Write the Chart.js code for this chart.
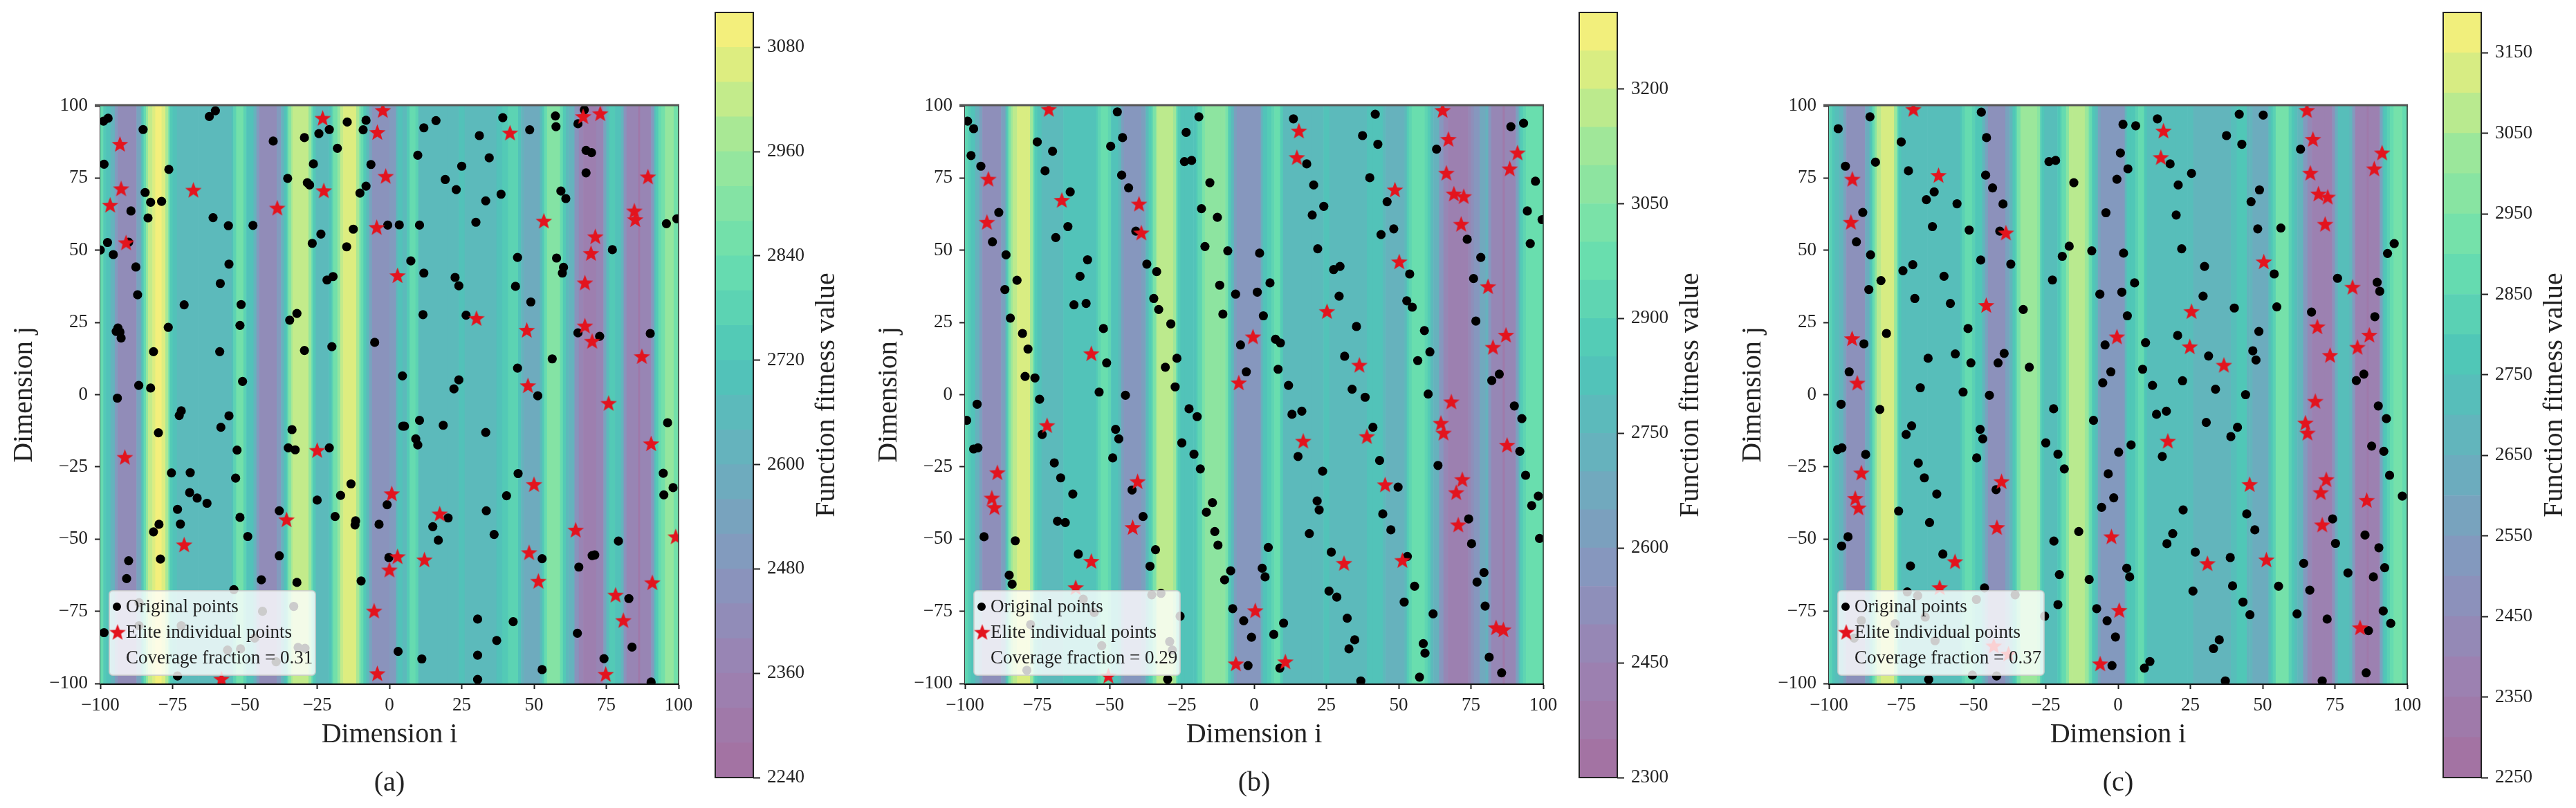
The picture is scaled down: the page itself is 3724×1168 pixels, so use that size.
<!DOCTYPE html>
<html><head><meta charset="utf-8">
<style>
html,body{margin:0;padding:0;background:#fff;width:3724px;height:1168px;overflow:hidden}
canvas{position:absolute;top:0;filter:blur(0.7px)}
</style>
<script src="https://cdn.jsdelivr.net/npm/chart.js@4"></script>
</head><body>
<script>
const axisTicks=[-100,-75,-50,-25,0,25,50,75,100];
const legendLabels=['Original points','Elite individual points'];
const xTitle='Dimension i', yTitle='Dimension j', barTitle='Function fitness value';
const captions=['(a)','(b)','(c)'];
const coverage=['Coverage fraction = 0.31','Coverage fraction = 0.29','Coverage fraction = 0.37'];

const barLevelsA=[2240,3120,40], barTicksA=[2240,2360,2480,2600,2720,2840,2960,3080];
const barLevelsB=[2300,3300,50], barTicksB=[2300,2450,2600,2750,2900,3050,3200];
const barLevelsC=[2250,3200,50], barTicksC=[2250,2350,2450,2550,2650,2750,2850,2950,3050,3150];

const stripeEnds=[-99,-98,-96.5,-95,-94,-87.5,-86,-85.5,-85,-84.2,-83.5,-82,-81,-78.8,-77.5,-76.5,-76,-75,-73.5,-66,-54.6,-54,-53,-50.5,-49.5,-47,-46,-45,-39,-37.5,-36.5,-35.5,-35,-34,-33.5,-28,-27,-26.5,-25.5,-24,-21,-20,-19.5,-18,-17,-16,-11.5,-10.5,-10,-9,-8,-7,-6,0,2.3,3,4.5,6,7,9,10,20,24,26,37,39,41,44.5,45.5,46.5,52,52.8,53.5,54.5,59,60,61,62,64,65.5,67,71.5,74,75,76,78,80,81,82,86,86.7,90.5,91.5,92,93,94,95.3,98.3,100];
const stripeBandsA=[14,12,11,9,6,4,7,10,12,14,17,19,20,21,20,18,15,12,11,10,10,11,13,15,13,11,9,6,4,6,9,11,13,16,18,19,17,14,12,10,10,11,13,15,17,19,20,18,16,14,12,10,7,5,6,10,11,10,12,14,13,10,10,11,10,11,12,13,11,9,8,10,12,14,16,14,12,10,9,5,3,2,3,7,10,12,11,9,5,3,1,3,6,10,12,14,15,17,15];
const stripeBandsB=[12,11,10,8,6,4,6,9,11,14,16,17,18,18,18,16,13,11,10,9,10,11,12,13,12,10,9,6,5,6,9,11,12,14,16,17,16,13,11,10,10,10,11,12,14,15,15,15,15,14,11,9,6,5,5,8,10,11,12,13,11,9,9,10,9,9,10,10,9,8,8,9,11,12,13,12,11,9,8,5,3,2,2,3,4,5,7,8,5,3,1,3,6,9,11,12,13,13,13];
const stripeBandsC=[11,10,9,8,6,4,7,9,10,12,14,16,17,17,17,15,12,10,9,9,9,10,11,12,11,10,8,6,4,6,8,10,11,13,14,15,14,11,10,9,9,10,11,12,14,16,16,15,14,12,10,9,6,5,5,8,10,10,11,12,10,9,9,9,8,8,9,10,8,8,7,9,10,11,13,11,10,9,8,5,3,2,2,4,7,9,9,8,5,2,1,2,6,9,10,11,12,13,12];

const originalPointsA=[[-98.9,94.7],[-97.3,95.7],[-85.2,91.8],[-98.7,79.8],[-76.3,78],[-62.3,96.3],[-60.2,98.3],[-40.2,87.8],[-29.4,89],[-24.4,90.4],[-20.8,91.8],[-14.6,94.4],[-8.1,95],[-9.1,91.7],[-18,85.3],[-26.3,79.9],[-6.4,79.7],[-35.2,74.9],[-28.4,73.4],[-27.6,72.6],[-8.1,72.2],[-10.2,69.8],[-84.5,70],[-82.6,66.6],[-78.8,66.9],[-89.4,63.6],[-83.5,61.2],[-61,61.3],[-55.7,58.5],[-47.2,58.6],[-0.6,58.7],[3.4,58.8],[10.4,58.7],[-12.5,57.3],[-23.7,55.6],[-97.5,52.7],[-90.2,52.8],[-100,50.1],[-95.5,48.5],[-26.7,52.4],[-14.8,51.2],[-87.7,44.2],[-55.5,45.2],[7.4,46.3],[-87.1,34.6],[-58.5,38.5],[-21.6,39.7],[-19.5,40.9],[11.9,42.1],[22.7,40.6],[24,37.7],[43.6,37.5],[44.3,47.5],[57.8,47.3],[60.2,44.1],[59.8,42.1],[48.9,32.1],[-71,31.1],[-51.3,31.2],[-32,28.1],[-34.5,25.8],[11.6,27.7],[26.5,27.5],[-76.5,23.3],[-51.7,24],[-93.9,23.1],[-94.5,21.9],[-93.2,21.7],[-92.8,19.6],[-5.1,18.1],[-19.9,16.6],[-29.4,15.3],[-81.6,14.9],[-58.7,14.9],[65.2,21.4],[72.7,20.2],[90.2,21.2],[56.3,12.4],[44.3,9.2],[4.5,6.5],[24,5.1],[22.3,2],[-50.8,4.6],[-86.7,3.2],[-82.6,2.3],[-94.1,-1.2],[51.3,-0.4],[39.2,95.9],[57.4,96.5],[57.6,92.8],[65.2,93.8],[67.4,98.6],[48.5,91.7],[31.1,89.7],[11.9,92.4],[16.1,94.9],[9.8,82.9],[34.5,82],[25,79.1],[68,84.6],[69.9,83.8],[68,76.8],[19.3,74.5],[23.1,71],[33.3,67.1],[38.6,69.4],[59.3,70.5],[61,67.9],[29.9,59.7],[95.8,59.2],[99.4,60.9],[77.1,50.2],[-72,-5.6],[-72.7,-7.2],[-55.5,-7.3],[-58.3,-11.3],[-79.9,-13.2],[-33.7,-12.1],[-35,-18.4],[-32.6,-19.1],[-52.7,-19.2],[-20.8,-18.4],[4.6,-10.9],[5.2,-10.9],[10.4,-8.9],[18.6,-10.6],[9.1,-15.3],[9.8,-17.4],[33.3,-13.1],[96.2,-9.7],[-75.4,-27.1],[-68.9,-27],[-53.2,-28.9],[44.5,-27.3],[94.7,-27.2],[98.1,-32.2],[94.9,-34.7],[-13.3,-30.9],[-16.9,-34.9],[-25,-36.5],[-69.1,-33.9],[-66.5,-35.8],[-63.1,-37.6],[-73.3,-39.7],[40.5,-35],[-0.8,-38.1],[33.5,-40.2],[-38.1,-40.2],[-18.8,-42.2],[-51.7,-42.5],[-11.7,-43.7],[-11.9,-45.1],[20.3,-42.7],[-79.7,-44.9],[-72.3,-44.8],[-3.6,-44.9],[15,-45.7],[-81.6,-47.5],[-49,-49.1],[36.2,-48.4],[16.9,-50.4],[79.2,-50.7],[-38.1,-55.8],[-0.2,-56.4],[-90.2,-57.5],[-79.2,-56.9],[52.8,-56.8],[70.1,-55.7],[71,-55.5],[65.5,-59.7],[-90.9,-63.7],[-44.3,-64.1],[-32,-65],[-9.8,-64.5],[-53.8,-67.5],[82.8,-70.6],[30.5,-77.7],[42.8,-78.6],[65,-82.6],[-98.7,-82.4],[37.1,-85.1],[83.9,-87.4],[3,-88.9],[11.2,-91.5],[30.5,-90.2],[74.2,-91.4],[52.8,-95.2],[-73.3,-97.4],[30.5,-98.6],[90.5,-99.5],[-86.6,-72],[-33.1,-73.3],[-43.9,-75],[-72,-80],[-86.6,-80],[-46.6,-84.3],[-56,-88.4],[-51.5,-88],[-31.6,-87.5],[-29.2,-87.8],[-39.2,-92.5]];
const elitePointsA=[[-93.2,86.7],[-23.1,95.7],[-2.3,98.4],[-4.2,90.8],[41.7,90.6],[67,96.3],[72.9,97.3],[-92.8,71.3],[-96.6,65.6],[-67.8,70.8],[-38.8,64.6],[-22.7,70.6],[-1.3,75.6],[89.4,75.4],[-4.4,57.9],[53.4,60.1],[84.7,63.6],[85,60.6],[-91.1,52.6],[71.2,54.7],[69.7,48.9],[2.8,41.2],[67.6,38.7],[30.1,26.4],[47.5,22.3],[67.6,23.8],[70.1,18.5],[87.3,13.2],[47.9,3.1],[75.8,-3],[-91.5,-21.7],[-25,-19.3],[90.5,-17],[50,-31.1],[0.8,-34.3],[17.4,-41.3],[-35.6,-43.3],[64.4,-46.9],[99,-49.2],[-71,-52],[2.8,-56.1],[12.1,-57.2],[48.3,-54.7],[0,-60.7],[51.5,-64.6],[90.9,-65.1],[78.2,-69.4],[-5.3,-74.9],[80.9,-78.2],[-4.2,-96.6],[-58.1,-98.5],[74.8,-96.8]];

const originalPointsB=[[-99.1,94.7],[-97,92.1],[-97.9,82.8],[-94.5,79.1],[-88.3,63.1],[-90.5,52.9],[-85.8,48.4],[-82,39.6],[-86.2,36.4],[-84.3,26.5],[-80.1,21.2],[-78.2,15.8],[-79.2,6.3],[-75.8,5.8],[-74.2,-1.6],[-95.8,-3.3],[-75,87.5],[-69.7,84.3],[-72.3,77.5],[-63.6,70.2],[-64.4,58.2],[-68.6,54.4],[-57.6,46.7],[-60.2,41],[-62.3,31.1],[-58.1,31.6],[-52.1,22.9],[-51,11],[-53.6,0.9],[-44.5,-0.2],[-47.3,97.9],[-49.6,86],[-45.5,89],[-45.8,76],[-43.4,71.6],[-40.9,56.6],[-37.1,45.2],[-33.7,42.6],[-34.7,33.3],[-33,29.5],[-28.8,24.5],[-26.7,12.6],[-30.7,9.5],[-27.3,2.7],[-19.1,96.2],[-23.5,90.8],[-24.1,80.7],[-21.6,81.1],[-15.3,73.4],[-18.2,64.4],[-12.7,61.4],[-17,51.3],[-9.1,49.8],[1.9,49],[-11.9,37.9],[-6.4,34.8],[1.1,35.5],[5.5,38.7],[-10.8,27.9],[3.2,27.3],[-4.7,17.2],[7.4,19.2],[9.1,17.9],[-2.7,7.9],[8.3,8.8],[11.9,3.2],[13.6,95.5],[41.9,97.1],[37.5,89.7],[42.8,86.7],[18.2,79.9],[20.6,72.6],[24.1,65.2],[20.1,62.2],[40,75.1],[46,66.8],[48.3,57.4],[43.9,55.4],[22,50.5],[27.5,43.3],[29.7,44.4],[53.8,41.8],[29.4,34.1],[52.8,32.5],[54.7,30.3],[35.4,23.6],[58.9,22.2],[60.8,14.8],[31.3,13.3],[56.6,11.8],[33.9,1.9],[38.4,-0.9],[60.2,0.2],[63.1,85],[88.8,92.8],[93.2,94],[97.3,73.9],[94.5,63.6],[99.6,60.6],[95.5,52.3],[73.7,53.8],[78.4,47.5],[75.9,40.2],[76.7,25.5],[84.8,7.1],[82.2,4.9],[90,-3.9],[-22.5,-4.9],[-19.7,-7.6],[13.1,-6.8],[16.5,-5.7],[-99.4,-8.9],[92.6,-8.3],[-47.9,-12],[-46.8,-15.3],[-73.3,-13.8],[41.1,-11.3],[-25,-16.7],[-97,-18.8],[-95.5,-18.4],[-20.8,-20.6],[15.2,-21.4],[-48.9,-21.9],[-69.1,-23.6],[43.4,-22.8],[63.6,-24.5],[91.9,-19.6],[-18.6,-25.7],[23.7,-26.5],[-66.9,-28.8],[93.9,-27.9],[49.8,-32],[-42.2,-33],[-62.7,-34.4],[98.3,-35.1],[-14.4,-37.4],[21.8,-36.8],[96,-38.4],[-16.5,-40.7],[22.5,-39.9],[44.5,-41.3],[-38.4,-42.2],[74.2,-43],[-68,-43.8],[-65.3,-44.3],[47.3,-46.8],[-13.6,-47.4],[19.1,-48.1],[-93.4,-49.2],[-82.6,-50.6],[98.7,-49.8],[-12.5,-52.1],[75.2,-51.6],[4.9,-52.9],[-34.1,-53.7],[26.7,-54.5],[-60.8,-55.2],[53,-56],[-36,-59.4],[2.8,-60.1],[-8.1,-61],[79.5,-61.6],[-84.7,-62.5],[3.8,-63.1],[-10.2,-64.1],[77.1,-64.9],[-83.7,-65.6],[55.5,-66.3],[25.9,-68],[28.6,-70.1],[51.9,-71.8],[79.9,-73.2],[-7.4,-74.1],[61.9,-75.9],[32.2,-77.4],[-3.6,-78.3],[10.2,-79.1],[-25.6,-76.7],[6.8,-83],[-0.9,-84],[34.8,-84.9],[58.5,-86.2],[32.8,-88],[59.1,-89.5],[81.3,-90.9],[-2.1,-93.8],[8.9,-94.7],[85.6,-96.3],[57.2,-97.8],[-29.9,-98.5],[36.9,-99.1],[-32.2,-68.8],[-35.4,-69.3],[-59.1,-70.8],[-55.3,-75.4],[-77.3,-79.6],[-29.2,-85.5],[-52.7,-86.9],[-28.3,-88.4],[-78.6,-95.4]];
const elitePointsB=[[-71,98.8],[-91.9,74.6],[-92.4,59.7],[-66.5,67.3],[-39.8,66],[-39,56],[-56.3,14.2],[-0.4,20],[-5.3,4.1],[15.5,91.3],[14.8,82.1],[48.7,70.9],[25.2,28.8],[36.4,10.2],[50.2,46],[65.2,98.4],[67.2,88.4],[66.5,76.7],[69.1,69.5],[72.5,68.6],[71.6,59],[91.1,83.7],[88.4,78.2],[80.9,37.4],[87.1,20.6],[82.6,16.4],[68.2,-2.5],[-71.6,-10.7],[-88.8,-27],[-90.7,-35.8],[-89.8,-39.1],[-40.3,-30.1],[-42,-46],[-56.3,-57.7],[-61.7,-66.8],[-50.4,-97.4],[0.4,-74.8],[-6.3,-93.2],[10.8,-92.5],[17,-16.1],[39,-14.5],[31.1,-58.4],[45.3,-31.2],[51.3,-57.4],[64.6,-9.9],[65.5,-13.3],[87.5,-17.5],[72,-29.4],[69.9,-33.9],[70.6,-45.1],[83.7,-80.7],[86.2,-81.4]];

const originalPointsC=[[-96.8,92.1],[-85.8,96.2],[-94.3,79.1],[-83.9,80.5],[-88.3,63.1],[-90.5,52.9],[-85.6,48.4],[-82,39.5],[-86.2,36.4],[-80.1,21.2],[-87.9,17.6],[-93,7.9],[-95.8,-3.3],[-82.4,-5.1],[-75,87.5],[-72.5,77.5],[-63.6,70.2],[-66.3,67.5],[-55.7,66.1],[-64.2,58.2],[-51.5,57],[-74.4,42.9],[-71,45],[-60.2,41],[-70.3,33.3],[-58,31.6],[-51.9,22.9],[-65.7,12.6],[-56.3,14.1],[-50.9,11],[-68.4,2.4],[-53.6,0.9],[-47.3,97.8],[-45.5,89],[-45.8,76],[-43.4,71.6],[-39.8,66],[-40.9,56.6],[-47.5,46.6],[-37.1,45.2],[-39.4,14.3],[-41.5,11],[-44.5,-0.2],[-32.8,29.5],[-30.7,9.5],[-23.9,80.7],[-21.6,81.1],[-15.3,73.4],[-16.9,51.4],[-19.3,47.9],[-22.7,39.7],[-9.1,49.8],[1.9,49],[1.7,93.6],[6.1,93.1],[0.8,83.7],[3.4,78.2],[-0.4,74.6],[-4.2,63],[-6.3,34.8],[1.3,35.5],[5.7,38.7],[3.2,27.3],[9.5,18],[-4.5,17.2],[-2.5,7.9],[8.5,8.8],[-5.3,4.1],[11.9,3.2],[13.6,95.5],[18,79.9],[25.4,76.6],[20.8,72.6],[20.1,62.2],[22,50.5],[29.9,44.4],[29.4,34.1],[20.6,20.5],[31.3,13.4],[22.3,4.8],[33.7,1.9],[41.9,97.1],[50.2,96.8],[37.5,89.7],[42.8,86.7],[48.9,70.9],[46,66.8],[48.3,57.4],[56.3,57.7],[54,41.8],[40.2,30],[54.9,30.4],[48.7,21.9],[46.6,15.2],[47.7,12],[44.1,0],[63.1,85],[75.9,40.3],[89.6,38.9],[90.5,35.8],[66.9,28.6],[88.8,27],[93.2,48.9],[95.5,52.3],[85,7.1],[82.4,4.9],[90,-3.9],[-22.3,-4.9],[13.3,-6.8],[16.7,-5.7],[92.8,-8.3],[-8.5,-8.9],[30.5,-9.6],[-71.4,-10.8],[-47.7,-12],[41.3,-11.3],[-73.3,-13.8],[-46.8,-15.3],[39,-14.5],[-25,-16.7],[4.5,-17.4],[87.7,-17.8],[-97,-19],[-95.5,-18.4],[0.2,-19.9],[91.9,-19.6],[-87.3,-20.7],[-20.8,-20.6],[15.3,-21.4],[-48.9,-21.9],[-69.1,-23.7],[-18.6,-25.7],[-3.4,-27.4],[-67,-28.8],[93.9,-27.9],[-42.2,-32.9],[-62.7,-34.4],[98.3,-35.1],[-1.5,-35.7],[-5.7,-39],[22.5,-39.9],[-75.9,-40.3],[44.5,-41.3],[74.2,-43],[-65.2,-44.3],[47.3,-46.8],[-13.6,-47.4],[18.9,-48.1],[85.4,-48.6],[-93.4,-49.2],[-22.2,-50.7],[75.2,-51.5],[16.9,-51.6],[-95.6,-52.4],[90.2,-53],[26.7,-54.5],[-60.6,-55.2],[38.8,-56.4],[64.2,-58.4],[-71.8,-59.3],[3,-60.1],[92.2,-59.9],[79.5,-61.7],[-20.3,-62.3],[88.3,-63.1],[4,-63.1],[-10,-64],[39.6,-66.2],[55.5,-66.3],[-46.2,-66.9],[66.3,-67.7],[25.9,-68],[-72.9,-68.3],[43.2,-71.8],[-20.8,-72.7],[-7.4,-74.1],[91.7,-74.9],[45.6,-76.2],[61.9,-75.9],[-25.4,-76.7],[72.3,-77.7],[-3.8,-78.3],[94.3,-79.2],[86.6,-81.7],[-0.9,-83.9],[35,-84.9],[33,-87.9],[11,-92.4],[-2.1,-93.8],[9.1,-94.7],[85.8,-96.3],[-65.5,-98.6],[37.1,-99.1],[70.6,-99.1],[-69.3,-69.6],[-49,-70.9],[-35.6,-69.3],[-66.7,-77],[-88.8,-78.2],[-77.1,-79.3],[-63.3,-85.2],[-91.3,-84.3],[-50.4,-97.1],[-42,-97.4]];
const elitePointsC=[[-70.8,98.8],[-91.9,74.6],[-92.4,59.7],[-62.1,75.9],[-38.8,56],[-45.6,30.9],[-92,19.4],[-90.2,4],[-0.4,20],[15.7,91.3],[14.8,82.1],[25.4,28.8],[24.8,16.6],[36.6,10.2],[50.4,46],[65.3,98.4],[67.4,88.4],[66.5,76.7],[69.3,69.5],[72.5,68.4],[71.6,59],[91.3,83.7],[88.6,78.2],[81.1,37.2],[68.9,23.5],[73.3,13.6],[86.9,20.6],[82.8,16.4],[68.2,-2.3],[-88.8,-27.1],[-90.9,-35.9],[-89.8,-39.2],[-40.3,-30.1],[-41.9,-46],[-56.4,-57.8],[-61.7,-66.8],[-43,-87],[-37.9,-89.8],[-2.3,-49.2],[0.4,-74.7],[-6.2,-93.2],[17.2,-16.1],[30.9,-58.5],[45.5,-31.1],[51.3,-57.2],[64.8,-9.8],[65.5,-13.3],[86,-36.6],[72,-29.4],[70.1,-33.9],[70.6,-45.1],[83.7,-80.7]];

const colorStops=[[0,[165,112,160]],[0.14,[155,130,178]],[0.27,[135,150,190]],[0.41,[105,175,190]],[0.545,[78,198,184]],[0.68,[106,223,174]],[0.82,[157,231,154]],[0.95,[231,238,124]],[1,[253,240,124]]];
function bandColor(t){
  for(let i=1;i<colorStops.length;i++){
    if(t<=colorStops[i][0]){
      const a=colorStops[i-1],b=colorStops[i],f=(t-a[0])/(b[0]-a[0]);
      return 'rgb('+a[1].map((v,k)=>Math.round(v+(b[1][k]-v)*f)).join(',')+')';
    }
  }
  return 'rgb(253,240,124)';
}
const SERIF='"Liberation Serif"';
Chart.defaults.font.family=SERIF;
Chart.defaults.color='#222';
Chart.defaults.animation=false;

function star(size,color){
  const c=document.createElement('canvas');c.width=c.height=size;
  const g=c.getContext('2d'),R=size/2,r=R*0.42;
  g.fillStyle=color;g.beginPath();
  for(let i=0;i<10;i++){
    const a=-Math.PI/2+i*Math.PI/5,q=i%2?r:R;
    g.lineTo(R+q*Math.cos(a),R+q*Math.sin(a)+R*0.06);
  }
  g.closePath();g.fill();return c;
}
const RED='#e3141e';
const starImg=star(25,RED);

const fmt=v=>v<0?'\u2212'+Math.abs(v):String(v);

function addCanvas(left,w){
  const c=document.createElement('canvas');
  c.width=w;c.height=1168;c.style.left=left+'px';c.style.width=w+'px';c.style.height='1168px';
  document.body.appendChild(c);return c;
}

function panel(cfg){
  const TOP=153,LEFT=145,W=836,PADR=40;
  const cv=addCanvas(cfg.plotLeft-LEFT,LEFT+W+PADR);
  const plugin={
    id:'stripes'+cfg.idx,
    beforeDatasetsDraw(ch){
      const g=ch.ctx,X=ch.scales.x,a=ch.chartArea,[lo,hi,st]=cfg.levels,n=Math.round((hi-lo)/st);
      g.save();
      let prev=-100;
      stripeEnds.forEach((e,i)=>{
        const p0=X.getPixelForValue(prev),p1=X.getPixelForValue(e);
        g.fillStyle=bandColor((cfg.bands[i]+0.5)/n);
        g.fillRect(p0,a.top,p1-p0+0.6,a.bottom-a.top);
        prev=e;
      });
      g.restore();
    },
    afterDraw(ch){
      const g=ch.ctx,a=ch.chartArea;
      g.save();
      g.strokeStyle='#555';g.lineWidth=3;
      g.beginPath();g.moveTo(a.left-8,a.top-1);g.lineTo(a.right+1,a.top-1);g.stroke();
      g.strokeStyle='#333';g.lineWidth=1.5;
      g.beginPath();g.moveTo(a.right,a.top);g.lineTo(a.right,a.bottom);g.stroke();
      // legend
      const bx=a.left+13,by=854,bw=298,bh=122;
      g.fillStyle='rgba(255,255,255,0.8)';g.strokeStyle='rgba(204,204,204,0.8)';g.lineWidth=2;
      g.beginPath();g.roundRect(bx,by,bw,bh,5);g.fill();g.stroke();
      g.fillStyle='#000';g.beginPath();g.arc(bx+11,877,6,0,Math.PI*2);g.fill();
      g.drawImage(starImg,bx+12-12.5,914-12.5);
      g.fillStyle='#222';g.font='27px '+SERIF;g.textBaseline='middle';g.textAlign='left';
      g.fillText(legendLabels[0],bx+24,878);
      g.fillText(legendLabels[1],bx+24,915);
      g.fillText(cfg.coverage,bx+24,952);
      g.restore();
    }
  };
  new Chart(cv,{
    type:'scatter',
    data:{datasets:[
      {label:legendLabels[1],data:cfg.elite.map(p=>({x:p[0],y:p[1]})),pointStyle:starImg,pointRadius:12,order:0,clip:0,backgroundColor:RED,borderColor:RED},
      {label:legendLabels[0],data:cfg.orig.map(p=>({x:p[0],y:p[1]})),pointStyle:'circle',pointRadius:6.6,pointBorderWidth:0,backgroundColor:'#000',order:1,clip:0}
    ]},
    plugins:[plugin],
    options:{
      responsive:false,devicePixelRatio:1,
      layout:{padding:{top:TOP,right:PADR,bottom:0,left:0}},
      plugins:{
        legend:{display:false},tooltip:{enabled:false},
        title:{display:true,text:cfg.caption,position:'bottom',fullSize:false,font:{size:40,weight:'normal'},color:'#222',padding:{top:0,bottom:11.5},align:'center'}
      },
      scales:{
        x:{type:'linear',min:-100,max:100,
          afterBuildTicks:s=>{s.ticks=axisTicks.map(v=>({value:v}));},
          afterFit:s=>{s.height=120.5;},
          ticks:{font:{size:27},callback:fmt,maxRotation:0,autoSkip:false,padding:8,color:'#222'},
          grid:{drawOnChartArea:false,drawTicks:true,tickLength:8,tickWidth:2,tickColor:'#222'},
          border:{display:true,color:'#111',width:3},
          title:{display:true,text:xTitle,font:{size:40},color:'#222',padding:{top:0,bottom:22.5}}
        },
        y:{type:'linear',min:-100,max:100,
          afterBuildTicks:s=>{s.ticks=axisTicks.map(v=>({value:v}));},
          afterFit:s=>{s.width=LEFT;},
          ticks:{font:{size:27},callback:fmt,autoSkip:false,padding:10,color:'#222'},
          grid:{drawOnChartArea:false,drawTicks:true,tickLength:8,tickWidth:2,tickColor:'#222'},
          border:{display:true,color:'#333',width:2},
          title:{display:true,text:yTitle,font:{size:40},color:'#222',padding:{top:11,bottom:0}}
        }
      }
    }
  });
}

function colorbar(cfg){
  const BW=56,AXW=130;
  const cv=addCanvas(cfg.barLeft,BW+AXW);
  const [lo,hi,st]=cfg.levels,n=Math.round((hi-lo)/st);
  const ds=[];
  for(let i=0;i<n;i++){
    ds.push({data:[[lo+i*st,lo+(i+1)*st]],backgroundColor:bandColor((i+0.5)/n),borderWidth:0,barPercentage:1,categoryPercentage:1});
  }
  new Chart(cv,{
    type:'bar',
    data:{labels:[''],datasets:ds},
    plugins:[{
      id:'barframe'+cfg.idx,
      afterLayout(ch){
        const a=ch.chartArea,y=ch.scales.y,x=ch.scales.x;
        a.top=18;a.bottom=1124;a.height=a.bottom-a.top;
        y.top=18;y.bottom=1124;y.height=1106;y.configure();
        x.top=1124;x.bottom=1124;
      },
      afterDraw(ch){
        const g=ch.ctx,a=ch.chartArea;
        g.save();
        g.strokeStyle='#222';g.lineWidth=2;
        g.strokeRect(a.left+1,a.top,a.right-a.left-1,a.bottom-a.top);
        g.fillStyle='#222';g.font='40px '+SERIF;g.textAlign='center';g.textBaseline='middle';
        g.translate(a.right+106,(a.top+a.bottom)/2);g.rotate(-Math.PI/2);
        g.fillText(barTitle,0,0);
        g.restore();
      }
    }],
    options:{
      responsive:false,devicePixelRatio:1,
      layout:{padding:{top:18,bottom:44,left:0,right:0}},
      plugins:{legend:{display:false},tooltip:{enabled:false}},
      scales:{
        x:{display:false,stacked:true},
        y:{position:'right',min:lo,max:hi,
          afterBuildTicks:s=>{s.ticks=cfg.ticks.map(v=>({value:v}));},
          afterFit:s=>{s.width=AXW;s.paddingTop=0;s.paddingBottom=0;},
          ticks:{font:{size:27},autoSkip:false,padding:10,color:'#222',callback:v=>String(v)},
          grid:{drawOnChartArea:false,drawTicks:true,tickLength:10,tickWidth:2,tickColor:'#222'},
          border:{display:false}
        }
      }
    }
  });
}

panel({idx:0,plotLeft:145,levels:barLevelsA,bands:stripeBandsA,orig:originalPointsA,elite:elitePointsA,caption:captions[0],coverage:coverage[0]});
panel({idx:1,plotLeft:1395,levels:barLevelsB,bands:stripeBandsB,orig:originalPointsB,elite:elitePointsB,caption:captions[1],coverage:coverage[1]});
panel({idx:2,plotLeft:2644,levels:barLevelsC,bands:stripeBandsC,orig:originalPointsC,elite:elitePointsC,caption:captions[2],coverage:coverage[2]});
colorbar({idx:0,barLeft:1033,levels:barLevelsA,ticks:barTicksA});
colorbar({idx:1,barLeft:2282,levels:barLevelsB,ticks:barTicksB});
colorbar({idx:2,barLeft:3531,levels:barLevelsC,ticks:barTicksC});
</script>
</body></html>
